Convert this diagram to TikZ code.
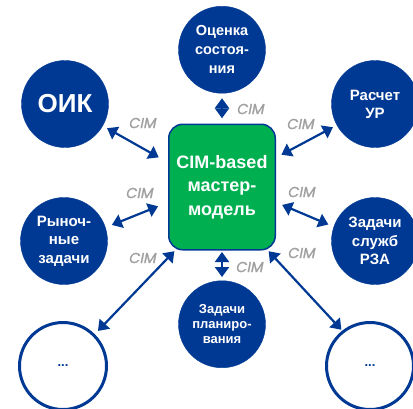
\documentclass[tikz,border=0pt]{standalone}
\usepackage{fontspec}
\setmainfont{Liberation Sans}
\newfontfamily\cimfont{Poppins}[FakeSlant=0.2,FakeBold=1.5]
\usetikzlibrary{positioning,arrows.meta}
\definecolor{cimblue}{RGB}{0,57,148}
\definecolor{cimgreen}{RGB}{0,176,80}
\definecolor{cimgray}{RGB}{160,160,160}

\begin{document}
\begin{tikzpicture}[x=1pt,y=-1pt,
circ/.style={circle,fill=cimblue,draw=cimblue,minimum size=87pt,inner sep=0pt,outer sep=0pt,align=center,text=white,font=\bfseries\fontsize{15}{18}\selectfont},
empty/.style={circle,draw=cimblue,line width=3pt,minimum size=87pt,outer sep=0pt,text=cimblue,font=\bfseries\fontsize{13}{15}\selectfont},
master/.style={draw=cimblue,line width=1.5pt,fill=cimgreen,rounded corners=14pt,minimum width=106.5pt,minimum height=125.5pt,outer sep=0pt,align=center,text=white,font=\bfseries\fontsize{18}{23.5}\selectfont},
lbl/.style={text=cimgray,font=\cimfont\fontsize{14.5}{14.5}\selectfont},
arr/.style={{Triangle[length=10pt,width=14pt]}-{Triangle[length=10pt,width=14pt]},line width=2.2pt,draw=cimblue}]
\useasboundingbox (0,0) rectangle (413,408);
\node[master] (m) at (222,187) {CIM-based\\мастер-\\модель};
\node[circ,above=31pt of m,font=\bfseries\fontsize{14.5}{19}\selectfont] (ocen) {Оценка\\состоя-\\ния};
\node[circ,font=\bfseries\fontsize{26}{26}\selectfont] (oik) at (65,104) {ОИК};
\node[circ] (ur) at (375,104) {Расчет\\УР};
\node[circ,font=\bfseries\fontsize{15}{18.5}\selectfont] (ryn) at (64,241) {Рыноч-\\ные\\задачи};
\node[circ,font=\bfseries\fontsize{15}{18.5}\selectfont] (rza) at (375,241) {Задачи\\служб\\РЗА};
\node[circ,below=31pt of m,font=\bfseries\fontsize{13}{15}\selectfont] (plan) {Задачи\\планиро-\\вания};
\node[empty] (etc1) at (63,366) {...};
\node[empty] (etc2) at (370,366) {...};
% links to the master model
\draw[arr,shorten <=5pt,shorten >=11.5pt] (oik.-30) -- ([yshift=24pt]m.west);
\draw[arr,shorten <=4.5pt,shorten >=7pt] (ur.209) -- ([yshift=29pt]m.east);
\draw[arr,shorten <=7pt,shorten >=11.5pt] (ryn.18) -- ([yshift=-15pt]m.west);
\draw[arr,shorten <=6pt,shorten >=7.5pt] (rza.161) -- ([yshift=-15pt]m.east);
\draw[arr,shorten <=5pt,shorten >=6pt] (ocen) -- (m);
\draw[arr,shorten <=2.25pt,shorten >=3.75pt] (m) -- (plan);
\draw[arr,shorten <=6pt,shorten >=2pt] (etc1.45) -- ([xshift=7pt]m.south west);
\draw[arr,shorten <=2.7pt,shorten >=2pt] (etc2.128) -- ([xshift=-8pt]m.south east);
% CIM labels
\node[lbl] (cimtop) at (250,109) {CIM};
\node[lbl] (cimoik) at (142,123) {CIM};
\node[lbl] (cimur) at (300,124) {CIM};
\node[lbl] (cimryn) at (139,193) {CIM};
\node[lbl] (cimrza) at (301,192) {CIM};
\node[lbl] (cimplan) at (249,267) {CIM};
\node[lbl] (cimetc1) at (142,258) {CIM};
\node[lbl] (cimetc2) at (301,253) {CIM};
\end{tikzpicture}
\end{document}
